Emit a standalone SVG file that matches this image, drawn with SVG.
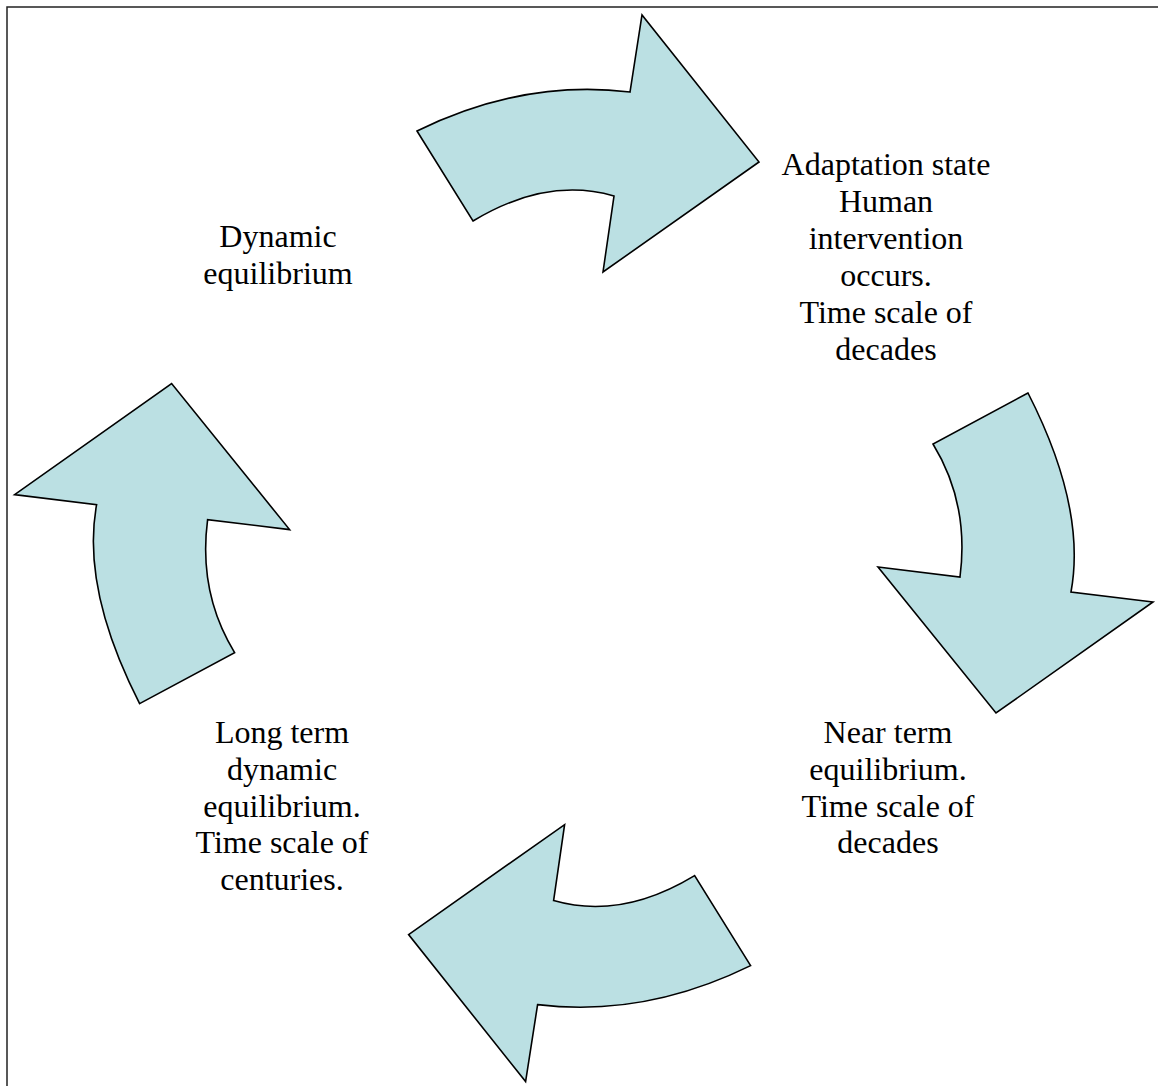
<svg xmlns="http://www.w3.org/2000/svg" width="1158" height="1086" viewBox="0 0 1158 1086">
<style>
.arrow{fill:#bbe0e3;stroke:#000;stroke-width:1.6;stroke-linejoin:miter}
.lbl{font-family:"Liberation Serif","Times New Roman",serif;font-size:32px;fill:#000;text-anchor:middle}
.frame{fill:none;stroke:#222;stroke-width:1.5}
</style>
<rect x="0" y="0" width="1158" height="1086" fill="#fff"/>
<path class="frame" d="M7,1090 V7 H1162"/>
<g id="connectors">
<path id="arrow-top" class="arrow" d="M417,131 Q523,79 630,92 L642,15 L759,162 L603,272 L614,196 Q546.5,176.5 473,221 Z"/>
<path id="arrow-right" class="arrow" d="M1028,393 L933,444 Q969.5,503.5 960,577 L878,567 L996,713 L1153,602 L1071,592 Q1086.5,507.5 1028,393 Z"/>
<path id="arrow-bottom" class="arrow" d="M750.6,965.6 Q644.6,1017.6 537.6,1004.6 L525.6,1081.6 L408.6,934.6 L564.6,824.6 L553.6,900.6 Q621.1,920.1 694.6,875.6 Z"/>
<path id="arrow-left" class="arrow" d="M139.6,703.6 L234.6,652.6 Q198.1,593.1 207.6,519.6 L289.6,529.6 L171.6,383.6 L14.6,494.6 L96.6,504.6 Q81.1,589.1 139.6,703.6 Z"/>
</g>
<g id="node-dynamic">
<text class="lbl" x="278" y="247">Dynamic</text>
<text class="lbl" x="278" y="284">equilibrium</text>
</g>
<g id="node-adaptation">
<text class="lbl" x="886" y="175">Adaptation state</text>
<text class="lbl" x="886" y="212">Human</text>
<text class="lbl" x="886" y="249">intervention</text>
<text class="lbl" x="886" y="286">occurs.</text>
<text class="lbl" x="886" y="323">Time scale of</text>
<text class="lbl" x="886" y="360">decades</text>
</g>
<g id="node-near">
<text class="lbl" x="888" y="743">Near term</text>
<text class="lbl" x="888" y="780">equilibrium.</text>
<text class="lbl" x="888" y="817">Time scale of</text>
<text class="lbl" x="888" y="853">decades</text>
</g>
<g id="node-long">
<text class="lbl" x="282" y="743">Long term</text>
<text class="lbl" x="282" y="780">dynamic</text>
<text class="lbl" x="282" y="817">equilibrium.</text>
<text class="lbl" x="282" y="853">Time scale of</text>
<text class="lbl" x="282" y="890">centuries.</text>
</g>
</svg>
